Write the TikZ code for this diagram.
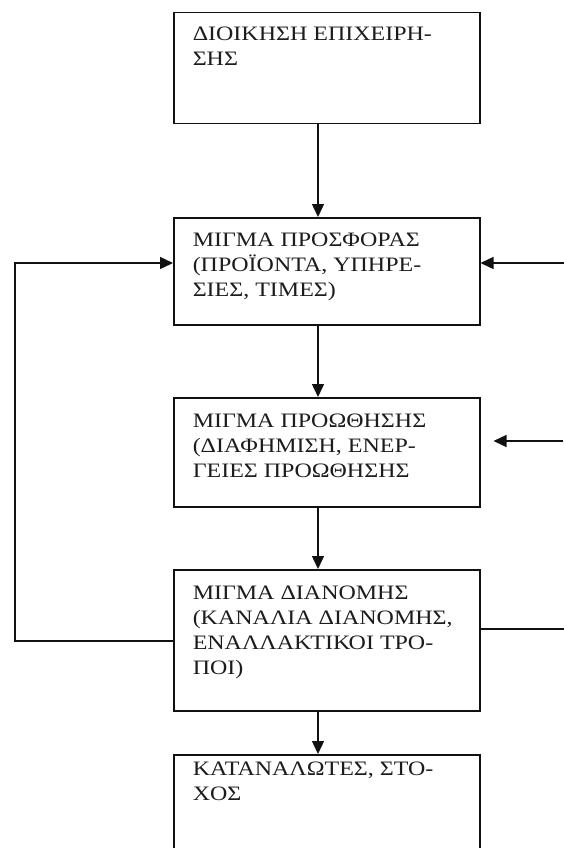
\documentclass[tikz,border=0pt]{standalone}
\usepackage{fontspec}
\setmainfont{Liberation Serif}[FakeStretch=1.17]
\usetikzlibrary{arrows.meta,calc}
\definecolor{linecol}{HTML}{111111}
\definecolor{txtcol}{HTML}{1C1C1C}
\newcommand{\bxtext}[3]{\parbox[c][#1][t]{268pt}{\raggedright\rule{0pt}{#2}#3}}
\tikzset{
  box/.style={draw=linecol, line width=1.5pt, inner xsep=19pt, inner ysep=0pt,
    anchor=north west, text=txtcol, font=\fontsize{20.5pt}{25pt}\selectfont},
  arr/.style={draw=linecol, line width=1.4pt, -{Triangle[length=13pt,width=12pt]}},
  ln/.style={draw=linecol, line width=1.4pt}
}
\begin{document}
\begin{tikzpicture}[x=1pt,y=-1pt]
\useasboundingbox (0,0) rectangle (564,848);
\clip (0,0) rectangle (564,848);
\fill[white] (0,0) rectangle (564,848);
\node[box] (b1) at (173,12) {\bxtext{111pt}{28pt}{ΔΙΟΙΚΗΣΗ ΕΠΙΧΕΙΡΗ-\\ΣΗΣ}};
\node[box] (b2) at (173,217) {\bxtext{107pt}{28.5pt}{ΜΙΓΜΑ ΠΡΟΣΦΟΡΑΣ\\(ΠΡΟΪΟΝΤΑ, ΥΠΗΡΕ-\\ΣΙΕΣ, ΤΙΜΕΣ)}};
\node[box] (b3) at (173,397) {\bxtext{109pt}{30pt}{ΜΙΓΜΑ ΠΡΟΩΘΗΣΗΣ\\(ΔΙΑΦΗΜΙΣΗ, ΕΝΕΡ-\\ΓΕΙΕΣ ΠΡΟΩΘΗΣΗΣ}};
\node[box] (b4) at (173,569) {\bxtext{141pt}{29.5pt}{ΜΙΓΜΑ ΔΙΑΝΟΜΗΣ\\(ΚΑΝΑΛΙΑ ΔΙΑΝΟΜΗΣ,\\ΕΝΑΛΛΑΚΤΙΚΟΙ ΤΡΟ-\\ΠΟΙ)}};
\node[box] (b5) at (173,754) {\bxtext{130pt}{21pt}{ΚΑΤΑΝΑΛΩΤΕΣ, ΣΤΟ-\\ΧΟΣ}};
\coordinate (ax) at (318,0);
\draw[arr] (b1.south -| ax) -- (b2.north -| ax);
\draw[arr] (b2.south -| ax) -- (b3.north -| ax);
\draw[arr] (b3.south -| ax) -- (b4.north -| ax);
\draw[arr] (b4.south -| ax) -- (b5.north -| ax);
\coordinate (R2) at (564,263);
\draw[arr] (R2) -- (b2.east |- R2);
\coordinate (R3) at (563,441);
\draw[arr] (R3) -- ($(b3.east |- R3)+(13,0)$);
\coordinate (R4) at (564,629);
\draw[ln] (b4.east |- R4) -- (R4);
\coordinate (L1) at (15,641);
\coordinate (L2) at (15,263);
\draw[arr] (b4.west |- L1) -- (L1) -- (L2) -- (b2.west |- L2);
\end{tikzpicture}
\end{document}
